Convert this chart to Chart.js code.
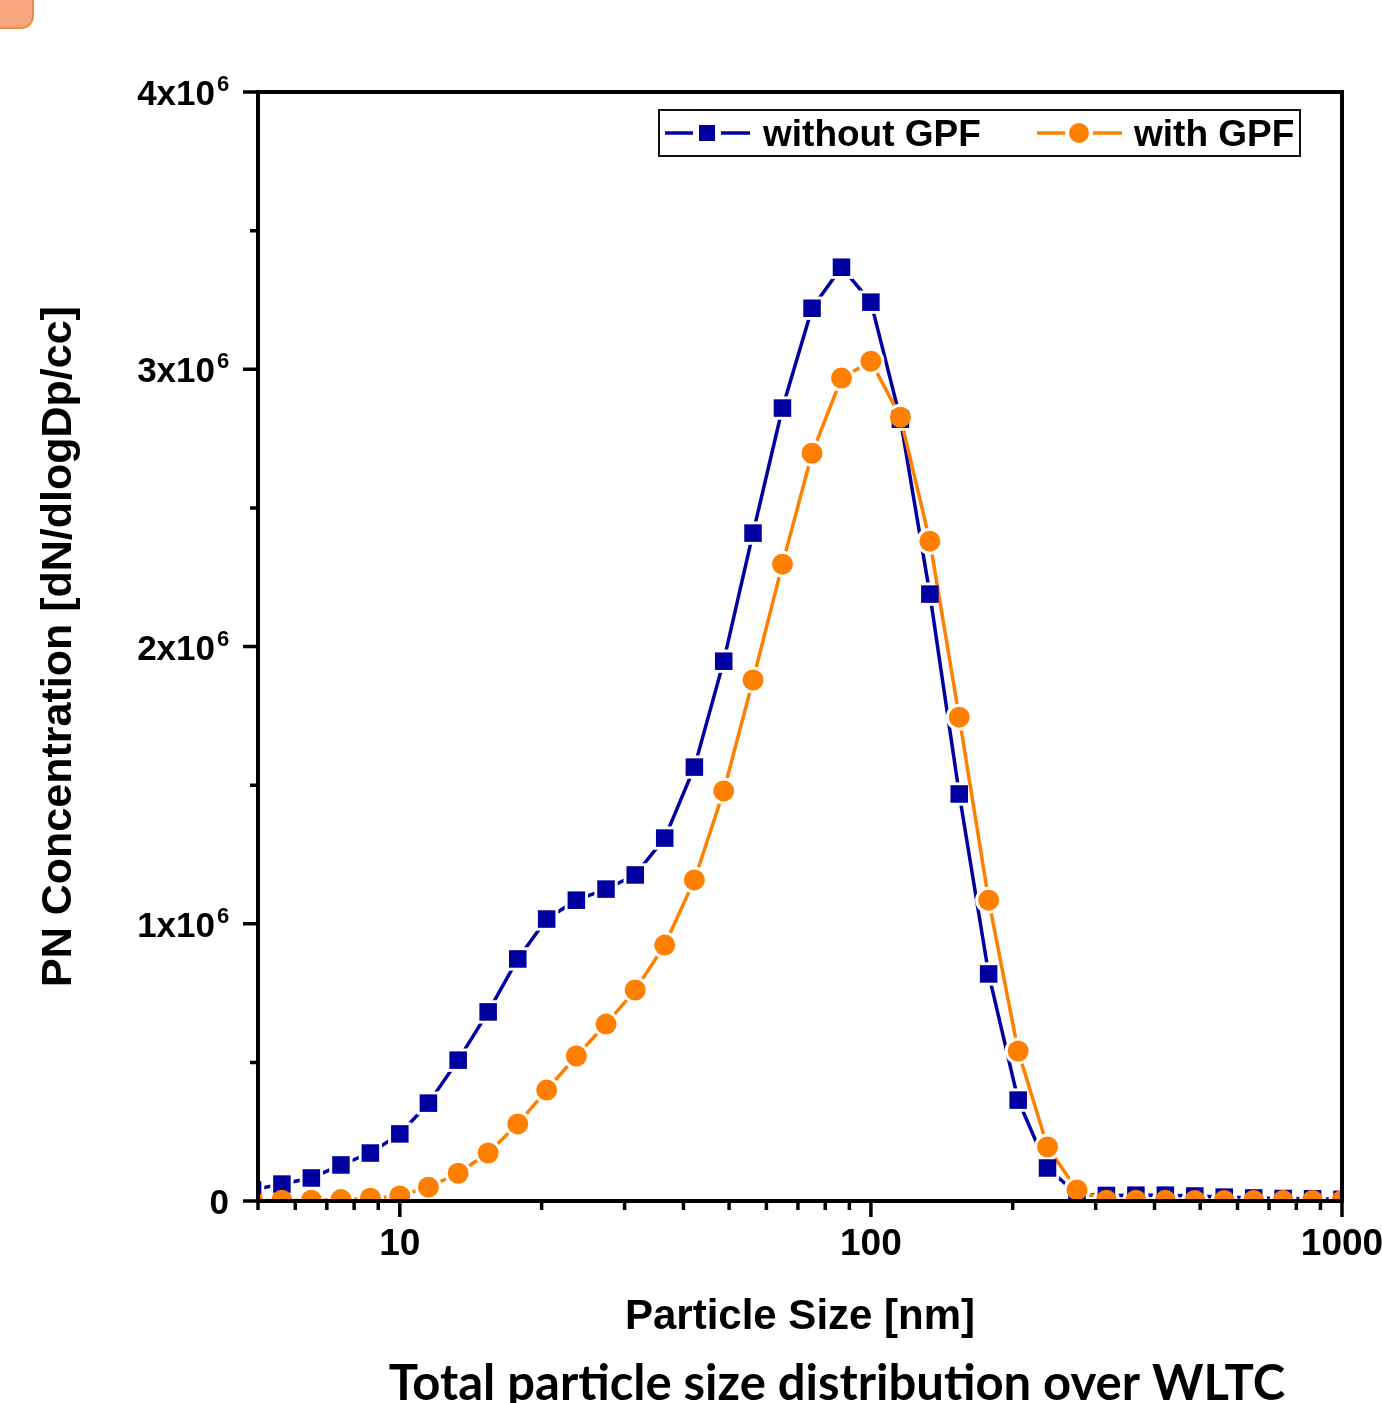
<!DOCTYPE html>
<html><head><meta charset="utf-8">
<script src="https://cdn.jsdelivr.net/npm/chart.js@4.4.1/dist/chart.umd.min.js"></script>
<style>html,body{margin:0;padding:0;background:#fff;}#wrap{position:relative;width:1382px;height:1403px;overflow:hidden;}</style>
</head><body><div id="wrap"><canvas id="c" width="1382" height="1403"></canvas></div>
<script>
// ---- data ----
const particleSizes = [4.87, 5.62, 6.49, 7.50, 8.66, 10.0, 11.5, 13.3, 15.4, 17.8, 20.5, 23.7, 27.4, 31.6, 36.5, 42.2, 48.7, 56.2, 64.9, 75.0, 86.6, 100, 115.5, 133.4, 154, 177.8, 205.4, 237.1, 273.8, 316.2, 365.2, 421.7, 487, 562.3, 649.4, 749.9, 866, 1000];
const withoutGPF = [40000, 61000, 83000, 130000, 173000, 242000, 353000, 508000, 682000, 873000, 1017000, 1085000, 1125000, 1176000, 1309000, 1565000, 1947000, 2409000, 2860000, 3220000, 3368000, 3242000, 2820000, 2189000, 1468000, 819000, 364000, 119000, 25000, 20000, 21000, 21000, 18000, 14000, 11000, 9000, 8000, 6000];
const withGPF = [2000, 3000, 3000, 5000, 10000, 18000, 50000, 100000, 173000, 278000, 400000, 523000, 638000, 761000, 923000, 1158000, 1479000, 1879000, 2297000, 2697000, 2968000, 3029000, 2827000, 2380000, 1745000, 1085000, 541000, 195000, 40000, 3000, 3000, 3000, 2000, 2000, 2000, 2000, 2000, 2000];
const seriesNames = ['without GPF', 'with GPF'];
const yTickValues = [0, 1e6, 2e6, 3e6, 4e6];
const yTickBase = ['0', '1x10', '2x10', '3x10', '4x10'];
const yTickExp = ['', '6', '6', '6', '6'];
const xTickValues = [10, 100, 1000];
const xTickLabels = ['10', '100', '1000'];
const xTitle = 'Particle Size [nm]';
const yTitle = 'PN Concentration [dN/dlogDp/cc]';
const caption = 'Total particle size distribution over WLTC';

const BLUE = '#0000A0';
const ORANGE = '#FF8000';
const FONT = "'Liberation Sans', Arial, sans-serif";

const toXY = (ys) => particleSizes.map((x, i) => ({x: x, y: ys[i]}));

const decoPlugin = {
  id: 'deco',
  beforeDraw(chart) {
    const ctx = chart.ctx;
    ctx.save();
    ctx.fillStyle = '#fff';
    ctx.fillRect(0, 0, chart.width, chart.height);
    ctx.beginPath();
    ctx.roundRect(-30, -30, 63, 58, 12);
    ctx.fillStyle = '#F8A67C';
    ctx.fill();
    ctx.lineWidth = 2;
    ctx.strokeStyle = '#EF8A45';
    ctx.stroke();
    ctx.restore();
  }
};

const framePlugin = {
  id: 'frame',
  afterDatasetsDraw(chart) {
    const {ctx, chartArea: a, scales: {x, y}} = chart;
    ctx.save();
    ctx.strokeStyle = '#000';
    ctx.lineWidth = 4;
    ctx.strokeRect(a.left, a.top, a.right - a.left, a.bottom - a.top);
    ctx.lineWidth = 3.5;
    ctx.beginPath();
    for (let v = 0; v <= 4e6; v += 5e5) {
      const p = y.getPixelForValue(v);
      const len = (v % 1e6 === 0) ? 15 : 8;
      ctx.moveTo(a.left - len, p); ctx.lineTo(a.left, p);
    }
    for (let d = 1; d <= 100; d *= 10) {
      for (let m = 1; m <= 10; m++) {
        const v = m * d;
        if (v < 5 || v > 1000) continue;
        const p = x.getPixelForValue(v);
        const len = (m === 1 || m === 10) ? 16 : 9;
        ctx.moveTo(p, a.bottom); ctx.lineTo(p, a.bottom + len);
      }
    }
    ctx.stroke();
    // y tick labels with superscript exponent
    ctx.fillStyle = '#000';
    ctx.textBaseline = 'alphabetic';
    yTickValues.forEach((v, i) => {
      const p = y.getPixelForValue(v);
      if (yTickExp[i]) {
        ctx.font = "bold 35px " + FONT;
        ctx.textAlign = 'right';
        ctx.fillText(yTickBase[i], a.left - 43, p + 13);
        ctx.font = "bold 22px " + FONT;
        ctx.textAlign = 'left';
        ctx.fillText(yTickExp[i], a.left - 41, p - 1);
      } else {
        ctx.font = "bold 35px " + FONT;
        ctx.textAlign = 'right';
        ctx.fillText(yTickBase[i], a.left - 29, p + 13);
      }
    });
    ctx.restore();
  },
  afterDraw(chart) {
    const ctx = chart.ctx;
    ctx.save();
    // legend
    ctx.fillStyle = '#fff';
    ctx.fillRect(659, 110, 641, 46);
    ctx.strokeStyle = '#111';
    ctx.lineWidth = 2;
    ctx.strokeRect(659, 110, 641, 46);
    const ly = 133;
    ctx.lineWidth = 3.5;
    ctx.strokeStyle = BLUE;
    ctx.beginPath();
    ctx.moveTo(665, ly); ctx.lineTo(693, ly);
    ctx.moveTo(721, ly); ctx.lineTo(750, ly);
    ctx.stroke();
    ctx.fillStyle = BLUE;
    ctx.fillRect(699, ly - 8, 16, 16);
    ctx.strokeStyle = ORANGE;
    ctx.beginPath();
    ctx.moveTo(1037, ly); ctx.lineTo(1065, ly);
    ctx.moveTo(1093, ly); ctx.lineTo(1122, ly);
    ctx.stroke();
    ctx.fillStyle = ORANGE;
    ctx.beginPath();
    ctx.arc(1079, ly, 10, 0, Math.PI * 2);
    ctx.fill();
    ctx.fillStyle = '#000';
    ctx.font = "bold 37px " + FONT;
    ctx.textBaseline = 'alphabetic';
    ctx.textAlign = 'left';
    ctx.fillText(seriesNames[0], 763, 146);
    ctx.fillText(seriesNames[1], 1134, 146);
    // caption
    ctx.font = "bold 49px Lato, 'Open Sans', sans-serif";
    ctx.textAlign = 'center';
    ctx.fillText(caption, 837, 1400);
    ctx.restore();
  }
};

// line layers: lines with white masks at points (gap around markers), then markers on top
const lineLayer = (label, ys, color, style, maskRadius, order) => ({
  label: label,
  data: toXY(ys),
  borderColor: color,
  borderWidth: 3.5,
  pointStyle: style,
  pointRadius: maskRadius,
  pointBorderWidth: 0,
  pointBackgroundColor: '#fff',
  pointBorderColor: '#fff',
  tension: 0,
  order: order
});
const markerLayer = (label, ys, color, style, radius, order) => ({
  label: label,
  data: toXY(ys),
  showLine: false,
  borderColor: color,
  borderWidth: 3,
  pointStyle: style,
  pointRadius: radius,
  pointBorderWidth: 0,
  pointBackgroundColor: color,
  pointBorderColor: color,
  order: order
});

new Chart(document.getElementById('c'), {
  type: 'line',
  data: {
    datasets: [
      lineLayer(seriesNames[0], withoutGPF, BLUE, 'rect', 16.5, 3),
      lineLayer(seriesNames[1], withGPF, ORANGE, 'circle', 13.5, 2),
      markerLayer(seriesNames[0], withoutGPF, BLUE, 'rect', 12.4, 1),
      markerLayer(seriesNames[1], withGPF, ORANGE, 'circle', 10.5, 0)
    ]
  },
  options: {
    responsive: false,
    animation: false,
    events: [],
    devicePixelRatio: 1,
    layout: {padding: {left: 0, right: 40, top: 92, bottom: 0}},
    plugins: {legend: {display: false}, tooltip: {enabled: false}, title: {display: false}},
    scales: {
      x: {
        type: 'logarithmic',
        min: 5,
        max: 1000,
        grid: {display: false, drawTicks: false, tickLength: 0},
        border: {display: false},
        ticks: {
          autoSkip: false,
          maxRotation: 0,
          minRotation: 0,
          padding: 22,
          color: '#000',
          font: {family: FONT, size: 37, weight: 'bold'},
          callback: (v) => {
            const i = xTickValues.indexOf(Number(v));
            return i >= 0 ? xTickLabels[i] : '';
          }
        },
        title: {
          display: true,
          text: xTitle,
          color: '#000',
          font: {family: FONT, size: 42, weight: 'bold'},
          padding: {top: 0, bottom: 60}
        },
        afterFit: (s) => { s.height = 202; s.paddingLeft = 0; s.paddingRight = 0; }
      },
      y: {
        type: 'linear',
        min: 0,
        max: 4e6,
        grid: {display: false, drawTicks: false, tickLength: 0},
        border: {display: false},
        ticks: {display: false, stepSize: 1e6},
        title: {
          display: true,
          text: yTitle,
          color: '#000',
          font: {family: FONT, size: 43, weight: 'bold'},
          padding: {top: 33, bottom: 0}
        },
        afterFit: (s) => { s.width = 258; s.paddingTop = 0; s.paddingBottom = 0; }
      }
    }
  },
  plugins: [decoPlugin, framePlugin]
});
</script></body></html>
